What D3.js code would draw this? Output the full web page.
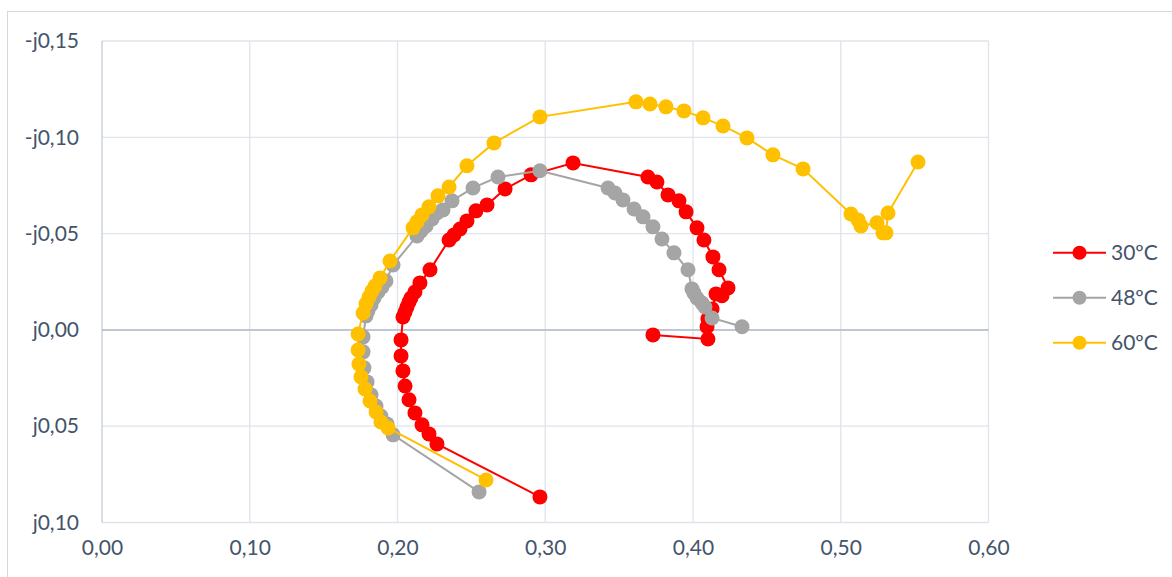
<!DOCTYPE html>
<html>
<head>
<meta charset="utf-8">
<script src="https://cdn.jsdelivr.net/npm/d3@7"></script>
<style>
  html, body { margin: 0; padding: 0; background: #fff; }
  svg { display: block; }
  text { font-family: Lato, "Open Sans", sans-serif; fill: #44546a; }
</style>
</head>
<body>
<svg id="chart" width="1172" height="577"></svg>
<script>
// ---- Data (real part, imaginary part; negative imaginary plotted upward) ----
const seriesNames = ["30ºC", "48ºC", "60ºC"];
const seriesColors = ["#ff0000", "#a5a5a5", "#ffc000"];

const re30 = [0.2964,0.2267,0.2213,0.2166,0.2118,0.2078,0.2051,0.2037,0.2024,0.2024,0.2037,0.2051,0.2064,0.2078,0.2091,0.2118,0.2152,0.2220,0.2349,0.2382,0.2423,0.2470,0.2531,0.2606,0.2728,0.2904,0.3188,0.3695,0.3756,0.3831,0.3905,0.3953,0.4027,0.4074,0.4135,0.4176,0.4237,0.4196,0.4156,0.4129,0.4101,0.4095,0.4101,0.3729];
const im30 = [0.0867,0.0592,0.0540,0.0493,0.0431,0.0363,0.0291,0.0213,0.0135,0.0052,-0.0067,-0.0093,-0.0119,-0.0145,-0.0166,-0.0197,-0.0244,-0.0312,-0.0467,-0.0493,-0.0524,-0.0566,-0.0618,-0.0649,-0.0732,-0.0805,-0.0867,-0.0794,-0.0768,-0.0701,-0.0670,-0.0613,-0.0530,-0.0467,-0.0379,-0.0312,-0.0218,-0.0177,-0.0187,-0.0109,-0.0057,-0.0016,0.0047,0.0026];

const re48 = [0.2552,0.1970,0.1929,0.1888,0.1855,0.1821,0.1794,0.1773,0.1767,0.1767,0.1787,0.1800,0.1821,0.1841,0.1868,0.1895,0.1922,0.1970,0.2132,0.2159,0.2193,0.2234,0.2267,0.2308,0.2369,0.2511,0.2680,0.2964,0.3425,0.3472,0.3526,0.3601,0.3662,0.3729,0.3790,0.3871,0.3966,0.3993,0.4006,0.4027,0.4061,0.4081,0.4129,0.4332];
const im48 = [0.0841,0.0545,0.0488,0.0447,0.0395,0.0337,0.0270,0.0197,0.0114,0.0036,-0.0073,-0.0099,-0.0130,-0.0166,-0.0197,-0.0223,-0.0254,-0.0337,-0.0488,-0.0514,-0.0540,-0.0576,-0.0607,-0.0623,-0.0670,-0.0737,-0.0794,-0.0826,-0.0737,-0.0711,-0.0675,-0.0628,-0.0587,-0.0535,-0.0472,-0.0400,-0.0312,-0.0213,-0.0192,-0.0166,-0.0140,-0.0119,-0.0062,-0.0016];

const re60 = [0.2599,0.1936,0.1888,0.1855,0.1814,0.1780,0.1753,0.1739,0.1733,0.1733,0.1767,0.1787,0.1807,0.1827,0.1848,0.1882,0.1949,0.2105,0.2132,0.2166,0.2213,0.2274,0.2349,0.2470,0.2653,0.2964,0.3614,0.3709,0.3817,0.3939,0.4068,0.4203,0.4365,0.4541,0.4745,0.5069,0.5117,0.5137,0.5245,0.5286,0.5306,0.5320,0.5523];
const im60 = [0.0779,0.0509,0.0478,0.0426,0.0369,0.0306,0.0244,0.0177,0.0104,0.0021,-0.0088,-0.0135,-0.0171,-0.0202,-0.0228,-0.0270,-0.0358,-0.0530,-0.0561,-0.0597,-0.0639,-0.0696,-0.0742,-0.0852,-0.0971,-0.1106,-0.1184,-0.1173,-0.1158,-0.1137,-0.1101,-0.1059,-0.0997,-0.0909,-0.0836,-0.0602,-0.0571,-0.0540,-0.0556,-0.0504,-0.0504,-0.0607,-0.0872];

const xTicks = [0, 0.1, 0.2, 0.3, 0.4, 0.5, 0.6];
const yTicks = [-0.15, -0.10, -0.05, 0, 0.05, 0.10];

// ---- Layout ----
const svg = d3.select("#chart");
const plot = { left: 102, right: 988.5, top: 41, bottom: 522.5 };

const x = d3.scaleLinear().domain([0, 0.6]).range([plot.left, plot.right]);
const y = d3.scaleLinear().domain([-0.15, 0.10]).range([plot.top, plot.bottom]);

const fmt2 = v => d3.format(".2f")(v).replace(".", ",");
const yFmt = v => (v < -1e-9 ? "-j" : "j") + fmt2(Math.abs(v));

// outer chart border
svg.append("rect")
  .attr("x", 7.5).attr("y", 11.5)
  .attr("width", 1190).attr("height", 600)
  .attr("fill", "none").attr("stroke", "#d9d9d9").attr("stroke-width", 1);

// grid lines
const grid = svg.append("g");
grid.selectAll("line.v").data(xTicks.slice(1)).join("line")
  .attr("x1", d => x(d)).attr("x2", d => x(d))
  .attr("y1", plot.top).attr("y2", plot.bottom)
  .attr("stroke", "#dfe3ea").attr("stroke-width", 1.3);
grid.selectAll("line.h").data(yTicks).join("line")
  .attr("x1", plot.left).attr("x2", plot.right)
  .attr("y1", d => y(d)).attr("y2", d => y(d))
  .attr("stroke", "#dfe3ea").attr("stroke-width", 1.3);

// y axis line (at x=0) and x axis line (at imag=0)
svg.append("line")
  .attr("x1", x(0)).attr("x2", x(0)).attr("y1", plot.top).attr("y2", plot.bottom)
  .attr("stroke", "#c5ccd8").attr("stroke-width", 1.3);
svg.append("line")
  .attr("x1", plot.left).attr("x2", plot.right).attr("y1", y(0)).attr("y2", y(0))
  .attr("stroke", "#b0bacb").attr("stroke-width", 1.5);

// axes labels via d3 axes
const xAxis = d3.axisBottom(x).tickValues(xTicks).tickFormat(fmt2).tickSize(0).tickPadding(0);
const gx = svg.append("g").attr("transform", `translate(0, ${plot.bottom + 18})`).call(xAxis);
gx.select(".domain").remove();
gx.selectAll("text").attr("font-size", 21).attr("dy", "0.71em")
  .style("font-family", "Lato, 'Open Sans', sans-serif").attr("fill", "#44546a");

const yAxis = d3.axisLeft(y).tickValues(yTicks).tickFormat(yFmt).tickSize(0).tickPadding(0);
const gy = svg.append("g").attr("transform", `translate(79, 0)`).call(yAxis);
gy.select(".domain").remove();
gy.selectAll("text").attr("font-size", 21)
  .style("font-family", "Lato, 'Open Sans', sans-serif").attr("fill", "#44546a");

// series
const series = [
  { name: seriesNames[0], color: seriesColors[0], pts: re30.map((r, i) => [r, im30[i]]) },
  { name: seriesNames[1], color: seriesColors[1], pts: re48.map((r, i) => [r, im48[i]]) },
  { name: seriesNames[2], color: seriesColors[2], pts: re60.map((r, i) => [r, im60[i]]) }
];

const line = d3.line().x(d => x(d[0])).y(d => y(d[1]));

series.forEach(s => {
  const g = svg.append("g");
  g.append("path").attr("d", line(s.pts))
    .attr("fill", "none").attr("stroke", s.color).attr("stroke-width", 2);
  g.selectAll("circle").data(s.pts).join("circle")
    .attr("cx", d => x(d[0])).attr("cy", d => y(d[1])).attr("r", 7.5)
    .attr("fill", s.color);
});

// legend
const legend = svg.append("g");
series.forEach((s, i) => {
  const cy = 252.7 + i * 45;
  legend.append("line").attr("x1", 1053).attr("x2", 1106).attr("y1", cy).attr("y2", cy)
    .attr("stroke", s.color).attr("stroke-width", 2);
  legend.append("circle").attr("cx", 1079.5).attr("cy", cy).attr("r", 7).attr("fill", s.color);
  legend.append("text").attr("x", 1111).attr("y", cy).attr("dy", "0.35em")
    .attr("font-size", 21).text(s.name);
});
</script>
</body>
</html>
